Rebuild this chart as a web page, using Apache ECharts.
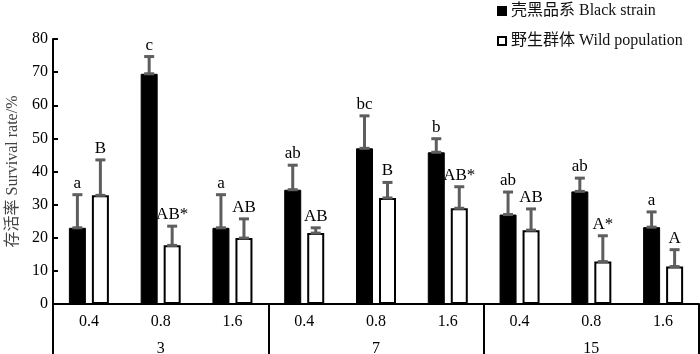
<!DOCTYPE html>
<html>
<head>
<meta charset="utf-8">
<script src="https://cdn.jsdelivr.net/npm/echarts@6/dist/echarts.min.js"></script>
<style>
  html, body { margin: 0; padding: 0; background: #fff; }
  #chart { width: 700px; height: 354px; }
</style>
</head>
<body>
<div id="chart"></div>
<script>
// 浓度 (dose) under each time group
const doses = ["0.4", "0.8", "1.6", "0.4", "0.8", "1.6", "0.4", "0.8", "1.6"];
const groups = ["3", "7", "15"];

const blackValues = [23, 69.5, 23, 34.5, 47, 45.8, 27, 34, 23.2];
const blackErrors = [10, 5.2, 10, 7.4, 9.8, 4.1, 6.8, 4, 4.6];
const blackMarks = ["a", "c", "a", "ab", "bc", "b", "ab", "ab", "a"];

const wildValues = [32.8, 17.7, 19.9, 21.4, 32, 28.9, 22.3, 12.8, 11.3];
const wildErrors = [10.7, 5.8, 5.8, 1.6, 4.7, 6.5, 6.4, 7.8, 5.1];
const wildMarks = ["B", "AB*", "AB", "AB", "B", "AB*", "AB", "A*", "A"];

const seriesNames = ["壳黑品系 Black strain", "野生群体 Wild population"];

const FONT = '"Liberation Serif", "Times New Roman", "Noto Sans CJK SC", serif';
const BAR_W = 17;
const BAR_GAP = 6;
const ERR_COLOR = "#5e5e5e";

function errorSeries(values, errors, marks, side) {
  const data = values.map((v, i) => [i, v, errors[i], marks[i]]);
  return {
    type: "custom",
    xAxisIndex: 0,
    yAxisIndex: 0,
    silent: true,
    z: 5,
    data,
    renderItem(params, api) {
      const idx = api.value(0);
      const v = api.value(1);
      const e = api.value(2);
      const mark = data[params.dataIndex][3];
      const base = api.coord([idx, v]);
      const top = api.coord([idx, v + e]);
      const cx = base[0] + side * (BAR_W + BAR_GAP) / 2;
      const half = 5;
      const ls = { stroke: ERR_COLOR, lineWidth: 3 };
      return {
        type: "group",
        children: [
          { type: "line", shape: { x1: cx, y1: base[1], x2: cx, y2: top[1] }, style: ls },
          { type: "line", shape: { x1: cx - half, y1: top[1], x2: cx + half, y2: top[1] }, style: ls },
          { type: "line", shape: { x1: cx - half, y1: base[1], x2: cx + half, y2: base[1] }, style: ls },
          {
            type: "text",
            style: {
              text: mark,
              x: cx,
              y: top[1] - 3,
              align: "center",
              verticalAlign: "bottom",
              fill: "#000",
              font: "17px " + FONT,
            },
          },
        ],
      };
    },
  };
}

const chart = echarts.init(document.getElementById("chart"));
const option = {
  animation: false,
  textStyle: { fontFamily: FONT, color: "#000" },
  legend: {
    orient: "vertical",
    left: 497,
    top: 3,
    padding: 0,
    icon: "rect",
    itemWidth: 8,
    itemHeight: 8,
    itemGap: 14,
    textStyle: { fontFamily: FONT, fontSize: 16, color: "#111" },
    data: seriesNames,
  },
  grid: { left: 53, right: 1, top: 39, bottom: 50, outerBoundsMode: "none" },
  xAxis: [
    {
      type: "category",
      data: doses,
      position: "bottom",
      axisLine: { show: true, lineStyle: { color: "#000", width: 2 } },
      axisTick: { show: false },
      axisLabel: { margin: 10, fontSize: 16, color: "#000", fontFamily: FONT },
    },
    {
      type: "category",
      data: groups,
      position: "bottom",
      axisLine: { show: false },
      axisTick: { show: true, length: 50, lineStyle: { color: "#000", width: 2 } },
      axisLabel: { margin: 37, fontSize: 16, color: "#000", fontFamily: FONT },
    },
  ],
  yAxis: {
    type: "value",
    min: 0,
    max: 80,
    interval: 10,
    name: "存活率 Survival rate/%",
    nameLocation: "middle",
    nameGap: 32,
    nameTextStyle: { fontSize: 16, color: "#444", fontFamily: FONT },
    axisLine: { show: true, lineStyle: { color: "#000", width: 2 } },
    axisTick: { show: true, inside: true, length: 5, lineStyle: { color: "#000", width: 2 } },
    axisLabel: { margin: 5, fontSize: 16, color: "#000", fontFamily: FONT },
    splitLine: { show: false },
  },
  series: [
    {
      name: seriesNames[0],
      type: "bar",
      xAxisIndex: 0,
      data: blackValues,
      barWidth: BAR_W,
      barGap: (BAR_GAP / BAR_W * 100) + "%",
      itemStyle: { color: "#000", borderColor: "#000", borderWidth: 1 },
    },
    {
      name: seriesNames[1],
      type: "bar",
      xAxisIndex: 0,
      data: wildValues,
      barWidth: BAR_W,
      barGap: (BAR_GAP / BAR_W * 100) + "%",
      itemStyle: { color: "#fff", borderColor: "#000", borderWidth: 2 },
    },
    errorSeries(blackValues, blackErrors, blackMarks, -1),
    errorSeries(wildValues, wildErrors, wildMarks, 1),
  ],
};
chart.setOption(option);
</script>
</body>
</html>
